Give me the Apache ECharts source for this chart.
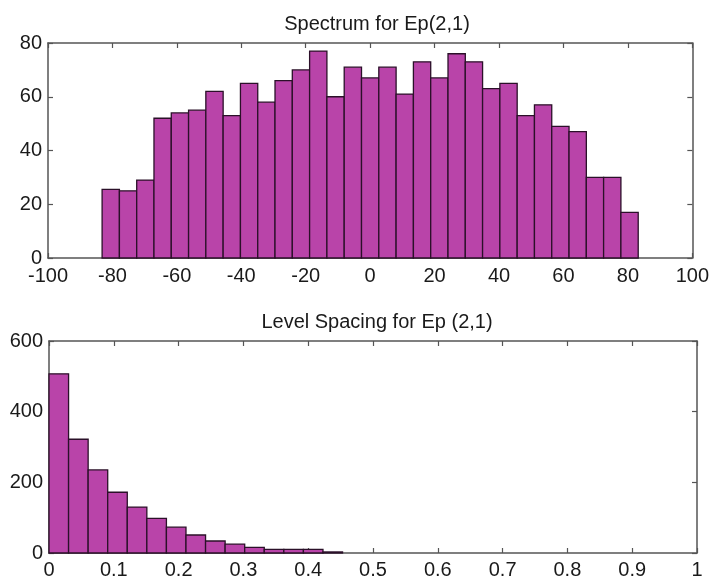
<!DOCTYPE html>
<html>
<head>
<meta charset="utf-8">
<script src="https://cdn.jsdelivr.net/npm/echarts@6/dist/echarts.min.js"></script>
<style>
html,body{margin:0;padding:0;background:#fff;}
#chart{width:712px;height:580px;}
</style>
</head>
<body>
<div id="chart"></div>
<script>
// ---- Data ----
var spectrumTitle = 'Spectrum for Ep(2,1)';
var spacingTitle = 'Level Spacing for Ep (2,1)';

var spectrumBinWidth = 5.37;
var spectrumCenters = [-80.52, -75.15, -69.78, -64.42, -59.05, -53.68, -48.32, -42.95, -37.58, -32.21,
  -26.85, -21.48, -16.11, -10.74, -5.37, 0, 5.37, 10.74, 16.11, 21.48,
  26.85, 32.21, 37.58, 42.95, 48.32, 53.68, 59.05, 64.42, 69.78, 75.15, 80.52];
var spectrumCounts = [25.5, 25, 29, 52, 54, 55, 62, 53, 65, 58,
  66, 70, 77, 60, 71, 67, 71, 61, 73, 67,
  76, 73, 63, 65, 53, 57, 49, 47, 30, 30, 17];

var spacingBinWidth = 0.0302;
var spacingCenters = [0.0151, 0.0453, 0.0755, 0.1057, 0.1359, 0.1661, 0.1963, 0.2265,
  0.2567, 0.2869, 0.3171, 0.3473, 0.3775, 0.4077, 0.4379];
var spacingCounts = [507, 322, 235, 172, 130, 98, 73, 51, 34, 25, 16, 10, 10, 10, 3];

var spectrumXTicks = {min: -100, max: 100, interval: 20};
var spectrumYTicks = {min: 0, max: 80, interval: 20};
var spacingXTicks = {min: 0, max: 1, interval: 0.1};
var spacingYTicks = {min: 0, max: 600, interval: 200};

// ---- Styling ----
var FONT = '"Liberation Sans", Arial, sans-serif';
var BAR_FILL = '#B944A9';
var BAR_EDGE = '#2b1029';
var FRAME = '#555555';
var TEXT = '#1a1a1a';

function histData(centers, counts, w) {
  return centers.map(function (c, i) { return [c - w / 2, c + w / 2, counts[i]]; });
}

function renderBar(params, api) {
  var p0 = api.coord([api.value(0), api.value(2)]);
  var p1 = api.coord([api.value(1), 0]);
  return {
    type: 'rect',
    shape: {x: p0[0], y: p0[1], width: p1[0] - p0[0], height: p1[1] - p0[1]},
    style: {fill: BAR_FILL, stroke: BAR_EDGE, lineWidth: 1.3}
  };
}

function xAxes(gridIndex, ticks, margin) {
  var common = {
    type: 'value', gridIndex: gridIndex, min: ticks.min, max: ticks.max, interval: ticks.interval,
    splitLine: {show: false},
    axisLine: {show: true, onZero: false, lineStyle: {color: FRAME, width: 1.5}},
    axisTick: {show: true, inside: true, length: 5, lineStyle: {color: FRAME, width: 1.2}}
  };
  var bottom = Object.assign({}, common, {
    position: 'bottom',
    axisLabel: {show: true, color: TEXT, fontSize: 20, fontFamily: FONT, margin: margin}
  });
  var top = Object.assign({}, common, {position: 'top', axisLabel: {show: false}});
  return [bottom, top];
}

function yAxes(gridIndex, ticks) {
  var common = {
    type: 'value', gridIndex: gridIndex, min: ticks.min, max: ticks.max, interval: ticks.interval,
    splitLine: {show: false},
    axisLine: {show: true, onZero: false, lineStyle: {color: FRAME, width: 1.5}},
    axisTick: {show: true, inside: true, length: 5, lineStyle: {color: FRAME, width: 1.2}}
  };
  var left = Object.assign({}, common, {
    position: 'left',
    axisLabel: {show: true, color: TEXT, fontSize: 20, fontFamily: FONT, margin: 6}
  });
  var right = Object.assign({}, common, {position: 'right', axisLabel: {show: false}});
  return [left, right];
}

var chart = echarts.init(document.getElementById('chart'), null, {renderer: 'canvas'});
var xa = xAxes(0, spectrumXTicks, 8).concat(xAxes(1, spacingXTicks, 7));
var ya = yAxes(0, spectrumYTicks).concat(yAxes(1, spacingYTicks));

chart.setOption({
  animation: false,
  backgroundColor: '#ffffff',
  title: [
    {text: spectrumTitle, left: 372, top: 9, textAlign: 'center',
     textStyle: {fontSize: 20, fontWeight: 'normal', color: TEXT, fontFamily: FONT}},
    {text: spacingTitle, left: 372, top: 307, textAlign: 'center',
     textStyle: {fontSize: 20, fontWeight: 'normal', color: TEXT, fontFamily: FONT}}
  ],
  grid: [
    {left: 48, right: 16, top: 43, height: 215},
    {left: 49, right: 15, top: 341, height: 214}
  ],
  xAxis: xa,
  yAxis: ya,
  series: [
    {type: 'custom', xAxisIndex: 0, yAxisIndex: 0, renderItem: renderBar,
     encode: {x: [0, 1], y: 2}, data: histData(spectrumCenters, spectrumCounts, spectrumBinWidth)},
    {type: 'custom', xAxisIndex: 2, yAxisIndex: 2, renderItem: renderBar,
     encode: {x: [0, 1], y: 2}, data: histData(spacingCenters, spacingCounts, spacingBinWidth)}
  ]
});
</script>
</body>
</html>
